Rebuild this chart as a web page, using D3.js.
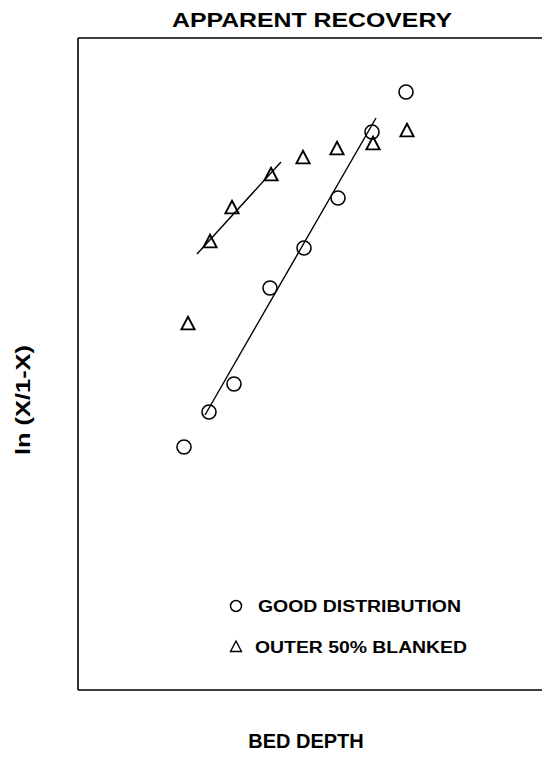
<!DOCTYPE html>
<html><head><meta charset="utf-8">
<script src="https://cdn.jsdelivr.net/npm/d3@7/dist/d3.min.js"></script>
<style>body{margin:0;background:#fff}svg{display:block}</style>
</head><body>
<script>
// Data (arbitrary units; chart has no tick labels)
const goodX = [10.6, 13.1, 15.6, 19.2, 22.6, 26.0, 29.4, 32.8];
const goodY = [24.3, 27.8, 30.6, 40.2, 44.2, 49.2, 55.8, 59.8];
const blankX = [11.0, 13.2, 15.4, 19.3, 22.5, 25.9, 29.5, 32.9];
const blankY = [36.6, 44.8, 48.2, 51.5, 53.2, 54.1, 54.6, 55.9];
const goodFitX = [12.7, 29.8];
const goodFitY = [27.5, 57.2];
const blankFitX = [11.9, 20.3];
const blankFitY = [43.6, 52.8];
const legendLabels = ["GOOD DISTRIBUTION", "OUTER 50% BLANKED"];

const W = 542, H = 770;
const m = {left: 78, top: 38, right: 542, bottom: 690};
const xMax = 46.4, yMax = 65.2;
const svg = d3.select("body").append("svg").attr("width", W).attr("height", H);
const x = d3.scaleLinear().domain([0, xMax]).range([m.left, m.right]);
const y = d3.scaleLinear().domain([0, yMax]).range([m.bottom, m.top]);
const font = "'Liberation Sans', Arial, Helvetica, sans-serif";

// frame
const frame = svg.append("g").attr("stroke", "#000").attr("stroke-width", 1.6).attr("fill", "none");
frame.append("line").attr("x1", x(0)).attr("x2", x(0)).attr("y1", y(0)).attr("y2", y(yMax));
frame.append("line").attr("x1", x(0)).attr("x2", x(xMax)).attr("y1", y(yMax)).attr("y2", y(yMax));
frame.append("line").attr("x1", x(0)).attr("x2", x(xMax)).attr("y1", y(0)).attr("y2", y(0));

// fit lines
const line = d3.line().x(d => x(d[0])).y(d => y(d[1]));
svg.append("path").datum(d3.zip(goodFitX, goodFitY)).attr("d", line)
  .attr("stroke", "#000").attr("stroke-width", 1.4).attr("fill", "none");
svg.append("path").datum(d3.zip(blankFitX, blankFitY)).attr("d", line)
  .attr("stroke", "#000").attr("stroke-width", 1.4).attr("fill", "none");

// markers
const tri = s => `M0,${-s*0.6}L${s*0.55},${s*0.45}L${-s*0.55},${s*0.45}Z`;
svg.append("g").selectAll("circle").data(d3.zip(goodX, goodY)).join("circle")
  .attr("cx", d => x(d[0])).attr("cy", d => y(d[1])).attr("r", 7)
  .attr("fill", "none").attr("stroke", "#000").attr("stroke-width", 1.6);
svg.append("g").selectAll("path").data(d3.zip(blankX, blankY)).join("path")
  .attr("transform", d => `translate(${x(d[0])},${y(d[1])})`).attr("d", tri(12))
  .attr("fill", "none").attr("stroke", "#000").attr("stroke-width", 1.9).attr("stroke-linejoin", "miter");

// legend
const lg = svg.append("g");
lg.append("circle").attr("cx", 236).attr("cy", 606).attr("r", 5.5)
  .attr("fill", "none").attr("stroke", "#000").attr("stroke-width", 1.5);
lg.append("path").attr("transform", "translate(236,647)").attr("d", tri(10))
  .attr("fill", "none").attr("stroke", "#000").attr("stroke-width", 1.4);
lg.append("text").attr("x", 258).attr("y", 612).text(legendLabels[0])
  .attr("font-family", font).attr("font-weight", "bold").attr("font-size", 16)
  .attr("textLength", 203).attr("lengthAdjust", "spacingAndGlyphs");
lg.append("text").attr("x", 255).attr("y", 653).text(legendLabels[1])
  .attr("font-family", font).attr("font-weight", "bold").attr("font-size", 16)
  .attr("textLength", 212).attr("lengthAdjust", "spacingAndGlyphs");

// titles
svg.append("text").attr("x", 172).attr("y", 27)
  .attr("font-family", font).attr("font-weight", "bold").attr("font-size", 21)
  .attr("textLength", 280).attr("lengthAdjust", "spacingAndGlyphs")
  .text("APPARENT RECOVERY");
svg.append("text").attr("x", 306).attr("y", 748).attr("text-anchor", "middle")
  .attr("font-family", font).attr("font-weight", "bold").attr("font-size", 20)
  .text("BED DEPTH");
svg.append("text").attr("transform", "translate(30,455) rotate(-90)")
  .attr("font-family", font).attr("font-weight", "bold").attr("font-size", 20)
  .attr("textLength", 110).attr("lengthAdjust", "spacingAndGlyphs")
  .text("ln (X/1-X)");
</script>
</body></html>
